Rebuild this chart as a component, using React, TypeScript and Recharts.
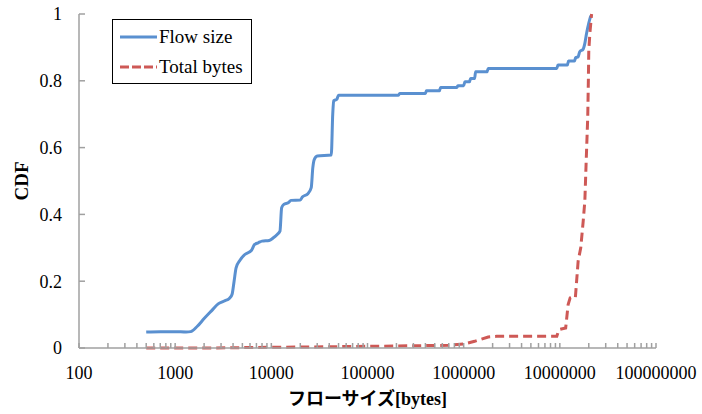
import React from 'react';
import { LineChart, Line, XAxis, YAxis } from 'recharts';

// CDF of flow sizes and of bytes carried, log-scale x axis
const flowSizeX = [
  500, 700, 1000, 1300, 1450, 1700, 2000, 2400, 2800, 3200, 3700, 3900, 4100, 4300, 4700,
  5300, 6200, 6700, 7300, 8000, 9500, 10500, 11500, 12300, 12800, 13500, 15000, 16000,
  20000, 21000, 24000, 26000, 27000, 28000, 30000, 42000, 43500, 44500, 48000, 50000,
  210000, 216000, 400000, 410000, 560000, 575000, 850000, 870000, 1000000, 1030000,
  1150000, 1180000, 1300000, 1330000, 1750000, 1800000, 9300000, 9550000, 12000000,
  12300000, 14200000, 14600000, 15500000, 16100000, 17500000, 18200000, 19000000,
  20000000, 21000000,
];
const flowSizeCdf = [
  0.048, 0.049, 0.049, 0.048, 0.049, 0.065, 0.088, 0.112, 0.132, 0.14, 0.15, 0.16, 0.2, 0.24, 0.262,
  0.28, 0.292, 0.31, 0.315, 0.32, 0.322, 0.33, 0.34, 0.35, 0.42, 0.43, 0.435, 0.442,
  0.443, 0.452, 0.462, 0.48, 0.54, 0.565, 0.575, 0.578, 0.7, 0.74, 0.745, 0.757,
  0.757, 0.762, 0.762, 0.77, 0.77, 0.78, 0.78, 0.785, 0.785, 0.797,
  0.797, 0.807, 0.807, 0.827, 0.827, 0.837, 0.837, 0.847, 0.847,
  0.859, 0.859, 0.869, 0.872, 0.887, 0.895, 0.912, 0.943,
  0.973, 0.995,
];

const totalBytesX = [
  500, 2000, 10000, 50000, 200000, 700000, 1000000, 1300000, 1800000, 2200000, 9300000,
  9800000, 11500000, 12200000, 12800000, 14500000, 15500000, 16500000, 17500000, 18200000,
  18800000, 19500000, 19800000, 20000000, 20500000, 21400000,
];
const totalBytesCdf = [
  0, 0, 0.002, 0.004, 0.006, 0.008, 0.012, 0.02, 0.033, 0.035, 0.035,
  0.055, 0.06, 0.13, 0.15, 0.15, 0.26, 0.3, 0.38, 0.44,
  0.56, 0.69, 0.8, 0.89, 0.94, 1.0,
];

const xTicks = [
  100, 200, 300, 400, 500, 600, 700, 800, 900,
  1000, 2000, 3000, 4000, 5000, 6000, 7000, 8000, 9000,
  10000, 20000, 30000, 40000, 50000, 60000, 70000, 80000, 90000,
  100000, 200000, 300000, 400000, 500000, 600000, 700000, 800000, 900000,
  1000000, 2000000, 3000000, 4000000, 5000000, 6000000, 7000000, 8000000, 9000000,
  10000000, 20000000, 30000000, 40000000, 50000000, 60000000, 70000000, 80000000, 90000000,
  100000000,
];
const xLabels = [100, 1000, 10000, 100000, 1000000, 10000000, 100000000];
const yTicks = [0, 0.2, 0.4, 0.6, 0.8, 1];

const flowSizeData = flowSizeX.map((x, i) => ({ x, cdf: flowSizeCdf[i] }));
const totalBytesData = totalBytesX.map((x, i) => ({ x, cdf: totalBytesCdf[i] }));

const BLUE = '#5A90D0';
const RED = '#CE5956';
const AXIS = '#A0A0A0';
const SERIF = "'Liberation Serif', 'Times New Roman', serif";

const XTick = (props: any) => {
  const { x, y, payload } = props;
  if (!xLabels.includes(payload.value)) return null;
  return (
    <text x={x} y={y} dy={36} textAnchor="middle" fontFamily={SERIF} fontSize={18} fill="#000">
      {payload.value}
    </text>
  );
};

const XTitle = (props: any) => {
  const { x, width } = props.viewBox;
  return (
    <text
      x={x + width / 2}
      y={405}
      textAnchor="middle"
      fontFamily={`${SERIF}, 'Noto Sans CJK JP'`}
      fontWeight="bold"
      fontSize={18}
      fill="#000"
    >
      フローサイズ[bytes]
    </text>
  );
};

const YTitle = (props: any) => {
  const { y, height } = props.viewBox;
  const cy = y + height / 2;
  return (
    <text
      x={28}
      y={cy}
      transform={`rotate(-90 28 ${cy})`}
      textAnchor="middle"
      fontFamily={SERIF}
      fontWeight="bold"
      fontSize={19}
      fill="#000"
    >
      CDF
    </text>
  );
};

// legend drawn as an overlay so it does not shift the plot area
const LegendBox = () => (
  <div
    style={{
      position: 'absolute',
      left: 112,
      top: 19,
      width: 138,
      height: 63,
      border: '1px solid #000',
      background: '#fff',
      fontFamily: SERIF,
      fontSize: 19,
      color: '#000',
    }}
  >
    <div style={{ display: 'flex', alignItems: 'center', height: 30, marginTop: 2 }}>
      <svg width={46} height={10}>
        <line x1={7} y1={5} x2={44} y2={5} stroke={BLUE} strokeWidth={3} />
      </svg>
      <span>Flow size</span>
    </div>
    <div style={{ display: 'flex', alignItems: 'center', height: 30 }}>
      <svg width={46} height={10}>
        <line x1={7} y1={5} x2={44} y2={5} stroke={RED} strokeWidth={3} strokeDasharray="9 3" />
      </svg>
      <span>Total bytes</span>
    </div>
  </div>
);

export default function App() {
  return (
    <div style={{ position: 'absolute', left: 0, top: 0, width: 702, height: 414, background: '#fff' }}>
      <LineChart width={702} height={414} margin={{ top: 14, right: 46, bottom: 0, left: 0 }}>
        <XAxis
          dataKey="x"
          type="number"
          scale="log"
          domain={[100, 100000000]}
          ticks={xTicks}
          interval={0}
          allowDataOverflow
          height={66}
          tickSize={-5}
          tickMargin={0}
          tick={<XTick />}
          stroke={AXIS}
          strokeWidth={1.5}
          label={{ content: <XTitle /> }}
        />
        <YAxis
          type="number"
          domain={[0, 1]}
          ticks={yTicks}
          width={79}
          tickSize={-6}
          tickMargin={23}
          tickFormatter={(v: number) => String(v)}
          tick={{ fontFamily: SERIF, fontSize: 18, fill: '#000' }}
          stroke={AXIS}
          strokeWidth={1.5}
          label={{ content: <YTitle /> }}
        />
        <Line
          data={flowSizeData}
          dataKey="cdf"
          name="Flow size"
          type="monotone"
          stroke={BLUE}
          strokeWidth={3}
          dot={false}
          isAnimationActive={false}
        />
        <Line
          data={totalBytesData}
          dataKey="cdf"
          name="Total bytes"
          type="linear"
          stroke={RED}
          strokeWidth={3}
          strokeDasharray="9 5"
          dot={false}
          isAnimationActive={false}
        />
      </LineChart>
      <LegendBox />
    </div>
  );
}
